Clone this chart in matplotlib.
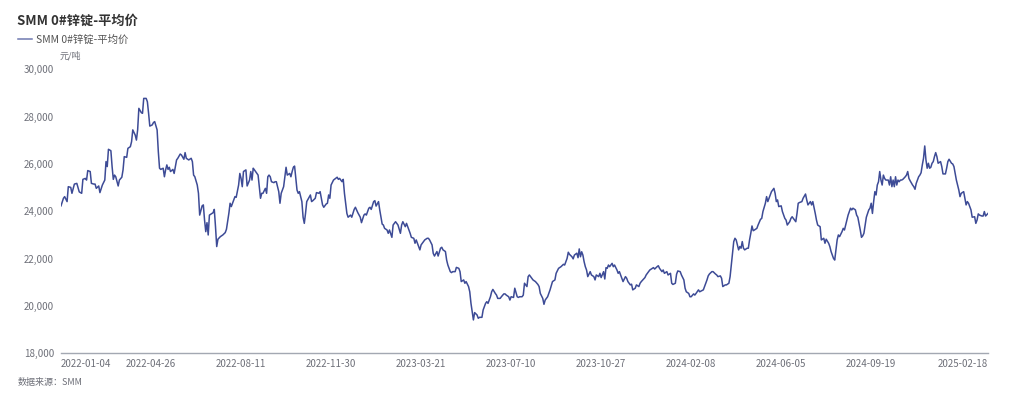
import numpy as np
import matplotlib
matplotlib.use("Agg")
import matplotlib.pyplot as plt
from matplotlib.ticker import FuncFormatter

plt.rcParams["font.family"] = ["Noto Sans CJK SC", "DejaVu Sans"]

# category axis: trading-day index (0 = 2022-01-04, 762 = 2025-02-18)
tick_day = [0, 74, 148, 222, 296, 370, 444, 518, 592, 666, 762]
tick_label = ["2022-01-04", "2022-04-26", "2022-08-11", "2022-11-30", "2023-03-21",
              "2023-07-10", "2023-10-27", "2024-02-08", "2024-06-05", "2024-09-19",
              "2025-02-18"]
y_ticks = [18000, 20000, 22000, 24000, 26000, 28000, 30000]

# 2022
day_2022 = [
    0, 2, 3, 5, 6, 8, 9, 11, 13, 15, 17, 18,
    20, 21, 22, 24, 25, 27, 28, 29, 31, 32, 34, 36,
    37, 38, 39, 41, 42, 43, 44, 45, 47, 48, 50, 51,
    52, 54, 55, 57, 58, 59, 61, 62, 63, 64, 66, 67,
    68, 70, 71, 72, 73, 75, 76, 77, 79, 80, 81, 82,
    84, 85, 86, 87, 88, 89, 90, 92, 93, 95, 96, 98,
    99, 101, 102, 103, 105, 107, 108, 109, 110, 112, 113, 114,
    116, 117, 118, 119, 120, 121, 122, 125, 126, 127, 128, 129,
    131, 133, 135, 136, 138, 139, 140, 142, 143, 144, 146, 147,
    148, 149, 150, 152, 153, 155, 156, 157, 158, 159, 161, 162,
    164, 165, 166, 168, 169, 170, 171, 172, 173, 175, 176, 177,
    179, 180, 181, 183, 185, 186, 188, 189, 190, 191,
    192, 194, 195, 196, 198, 199, 200, 201, 202, 205, 206, 207,
    209, 210, 212, 213, 215, 216, 218, 219, 220, 221, 222, 224,
    227, 228, 229, 231, 232, 233, 235, 236, 238, 239, 241, 242,
]
price_2022 = [
    24230, 24550, 24620, 24410, 25040, 25010, 24760, 25150, 25180, 24820, 24760, 25350,
    25390, 25320, 25720, 25680, 25180, 25150, 25150, 24970, 25070, 24790, 25110, 25320,
    26100, 25890, 26620, 26560, 25890, 25350, 25530, 25460, 25070, 25320, 25440, 25750,
    26310, 26280, 26660, 26730, 26940, 27440, 27220, 27010, 27440, 28350, 28170, 28140,
    28770, 28770, 28630, 28140, 27600, 27650, 27750, 27790, 27440, 26520, 25820, 25770,
    25820, 25460, 25750, 25960, 25770, 25860, 25680, 25770, 25600, 26170, 26240, 26420,
    26380, 26200, 26480, 26240, 26170, 26240, 26100, 25530, 25460, 25110, 24760, 23840,
    24230, 24270, 23630, 23140, 23520, 23000, 23840, 23940, 24080, 23350, 22510, 22820,
    22930, 23000, 23100, 23240, 23920, 24340, 24200, 24480, 24620, 24590, 25110, 25600,
    25390, 25040, 25680, 25750, 25070, 25320, 25680, 25320, 25820, 25750, 25600, 25530,
    24550, 24760, 24760, 24970, 24760, 25460, 25530, 25460, 25250, 25210, 25250, 25250,
    24830, 24340, 24760, 25040, 25860, 25530, 25600, 25460, 25680, 25860,
    25910, 24900, 24760, 24830, 24410, 23750, 23490, 23910, 24410, 24690, 24410, 24450,
    24550, 24790, 24760, 24830, 24270, 24170, 24310, 24340, 24690, 24550, 25110, 25320,
    25440, 25350, 25390, 25250, 25350, 24760, 23910, 23750, 23840, 23750, 24080, 24170,
]

# 2023
day_2023 = [
    244, 246, 247, 249, 250, 251, 253, 254, 255, 257, 258, 259,
    261, 262, 264, 265, 266, 268, 269, 270, 272, 273, 275, 276,
    277, 279, 280, 281, 283, 284, 285, 287, 288, 290, 291, 292,
    294, 295, 296, 298, 299, 301, 302, 303, 305, 306, 307, 309,
    310, 312, 313, 314, 316, 317, 318, 320, 321, 322, 324, 325,
    327, 328, 329, 331, 332, 333, 335, 336, 337, 338, 339, 340,
    342, 343, 344, 346, 347, 349, 350, 351, 353, 354, 355, 357,
    358, 359, 361, 362, 364, 365, 366, 368, 369, 370, 372, 373,
    375, 376, 377, 379, 380,
    381, 383, 384, 385, 387, 388, 390, 392, 393, 394, 396, 397,
    398, 400, 402, 404, 406, 407, 409, 411, 413, 414, 416, 417,
    418, 420, 421, 422, 424, 425, 426, 427, 428, 429, 430, 431,
    432, 433, 435, 436, 438, 439, 440, 442, 443, 444, 446, 447,
    448, 449, 450, 451, 453, 454, 455, 457, 458, 459, 461, 462,
    464, 465, 466, 468, 469, 470, 472, 473, 475, 476, 477, 479,
    480, 481, 483, 484,
]
price_2023 = [
    23940, 23750, 23520, 23840, 23890, 23840, 24130, 24170, 24080, 24410, 24450, 24220,
    24410, 24060, 23460, 23420, 23280, 23210, 23070, 23210, 22900, 23420, 23560, 23490,
    23420, 23070, 23420, 23560, 23350, 23490, 23350, 23070, 22900, 22860, 22650, 22790,
    22510, 22370, 22580, 22720, 22790, 22860, 22860, 22790, 22580, 22220, 22110, 22300,
    22110, 22440, 22480, 22370, 22300, 21940, 21730, 21450, 21410, 21450, 21450, 21630,
    21590, 21450, 21030, 21100, 20960, 21030, 20820, 20600, 20110, 19760, 19410, 19720,
    19620, 19480, 19520, 19520, 19830, 20110, 20180, 20110, 20390, 20600, 20700, 20530,
    20460, 20320, 20320, 20390, 20510, 20510, 20460, 20390, 20250, 20390, 20360, 20750,
    20390, 20360, 20390, 20390, 20460,
    20960, 20820, 21240, 21310, 21170, 21100, 21030, 20910, 20820, 20530, 20320, 20070,
    20250, 20390, 20680, 21030, 21100, 21380, 21590, 21660, 21760, 21730, 22010, 22270,
    22180, 22080, 21990, 22150, 22230, 22040, 22410, 22080, 22290, 22150, 21870, 21660,
    21520, 21240, 21450, 21310, 21240, 21100, 21310, 21240, 21380, 21200, 21450, 21140,
    21620, 21590, 21730, 21660, 21800, 21660, 21730, 21520, 21380, 21450, 21170, 21030,
    21240, 21170, 21030, 20890, 20920, 20680, 20750, 20890, 20820, 20960, 21030, 21140,
    21200, 21310, 21450, 21520,
]

# 2024 - 2025
day_2024 = [
    486, 487, 488, 490, 491, 492, 494, 495,
    496, 498, 499, 501, 502, 503, 505, 506, 507, 509, 510, 512,
    513, 514, 516, 517,
    518, 520, 521, 522, 524, 525, 527, 528, 529, 531, 532, 533,
    535, 536, 538, 539, 540, 542, 543, 544, 546, 547, 549, 550,
    551, 552, 553, 554, 555, 557, 558, 559, 560, 561, 562, 564,
    565, 566, 567, 568, 569, 570, 572, 573, 575, 576, 577, 579,
    580, 581, 583, 584, 586, 587, 588, 589, 590, 592, 593, 595,
    596, 597, 599, 600, 601, 603, 604, 605, 606, 607, 609, 610,
    612, 613, 614, 616, 617, 618, 620, 621, 622, 624, 625, 627,
    628, 629, 631, 632, 633, 635, 636, 637, 638, 639, 640, 642,
    643, 644, 646, 647, 649, 650, 651, 653, 654,
    655, 657, 658, 659, 660, 661, 662, 664, 665, 666, 667, 668,
    669, 670, 671, 672, 673, 674, 675, 676, 677, 678, 680, 681,
    682, 683, 684, 685, 686, 687, 688, 689, 690, 691, 692, 694,
    695, 696, 697, 698, 700, 701, 702, 703, 705, 706, 707, 708,
    709, 710, 711, 712, 713, 714, 715, 716, 717, 718, 719, 720,
    721, 723, 724, 725, 727, 728, 729, 730, 732, 733, 734, 736,
    737, 738, 739, 740, 742, 743, 744, 745, 746, 748, 749, 751,
    752, 753, 754, 755, 757, 758, 759, 760, 762,
]
price_2024 = [
    21590, 21620, 21560, 21660, 21700, 21590, 21450, 21520,
    21380, 21450, 21310, 21380, 20960, 20910, 20960, 21340, 21480, 21450, 21310, 21100,
    20750, 20600, 20530, 20390,
    20390, 20510, 20460, 20530, 20680, 20600, 20650, 20680, 20820, 21100, 21270, 21350,
    21450, 21450, 21350, 21310, 21240, 21270, 21170, 20820, 20890, 20890, 20960, 21240,
    21730, 22230, 22720, 22860, 22790, 22370, 22510, 22440, 22720, 22440, 22370, 22440,
    22440, 22790, 23070, 23380, 23180, 23210, 23280, 23420, 23660, 23700, 23990, 24340,
    24620, 24410, 24690, 24830, 24970, 24760, 24410, 24480, 24200, 24230, 23990, 23700,
    23630, 23420, 23560, 23700, 23770, 23630, 23560, 23910, 24340, 24370, 24410, 24550,
    24730, 24480, 24270, 24410, 24270, 24410, 23910, 23630, 23420, 23350, 22790, 22860,
    22650, 22820, 22650, 22510, 22300, 22010, 21940, 22370, 22790, 23000, 22930, 23140,
    23280, 23210, 23630, 23840, 24130, 24060, 24130, 24060, 23840,
    23750, 23210, 22900, 22960, 23070, 23420, 23750, 24060, 24130, 24340, 23910, 24410,
    24830, 24690, 25110, 25250, 25680, 25320, 25110, 25530, 25390, 25320, 25320, 25110,
    25460, 25040, 25320, 25040, 25460, 25110, 25320, 25250, 25320, 25320, 25350, 25460,
    25530, 25680, 25390, 25290, 25110, 25040, 24930, 25180, 25460, 25530, 25630, 25960,
    26240, 26760, 26170, 25820, 26030, 25820, 25860, 26030, 26100, 26310, 26480, 26310,
    26030, 26100, 25890, 25580, 25580, 25820, 26100, 26200, 26030, 26000, 25890, 25320,
    25110, 24900, 24620, 24760, 24830, 24550, 24270, 24410, 24340, 24060, 23750, 23770,
    23490, 23630, 23890, 23840, 23800, 23800, 23990, 23800, 23910,
]

day = day_2022 + day_2023 + day_2024
price = price_2022 + price_2023 + price_2024
assert len(day) == len(price), (len(day), len(price))

LINE = "#3d4b96"
GREY = "#6e7079"

fig = plt.figure(figsize=(10.24, 3.99), dpi=100)
ax = fig.add_axes([61 / 1024, 1 - 353.3 / 399, 927 / 1024, 284 / 399])
ax.plot(day, price, color=LINE, lw=1.1, label="SMM 0#锌锭-平均价")

ax.set_xlim(0, tick_day[-1])
ax.set_ylim(18000, 30000)
ax.set_yticks(y_ticks)
ax.yaxis.set_major_formatter(FuncFormatter(lambda v, _: f"{int(v):,}"))
ax.set_xticks(tick_day)
ax.set_xticklabels(tick_label)
xl = ax.get_xticklabels()
xl[0].set_ha("left")
xl[-1].set_ha("right")
ax.tick_params(axis="both", length=0, labelsize=7, labelcolor=GREY)
ax.tick_params(axis="y", pad=5)
ax.tick_params(axis="x", pad=4)
for s in ["top", "right", "left"]:
    ax.spines[s].set_visible(False)
ax.spines["bottom"].set_color("#a3a8b2")
ax.spines["bottom"].set_linewidth(1)

fig.text(17 / 1024, 1 - 21 / 399, "SMM 0#锌锭-平均价", fontsize=9.5, fontweight="bold",
         color="#333333", va="center", ha="left")
leg = ax.legend(loc="center left", bbox_to_anchor=(18 / 1024, 1 - 40 / 399),
                bbox_transform=fig.transFigure, frameon=False, fontsize=7.5,
                borderpad=0, borderaxespad=0, handlelength=1.3, handletextpad=0.45,
                labelcolor="#555555")
leg.get_lines()[0].set_color("#6f79b0")
fig.text(70 / 1024, 1 - 56 / 399, "元/吨", fontsize=6.5, color=GREY, ha="center", va="center")
fig.text(18 / 1024, 1 - 382 / 399, "数据来源：SMM", fontsize=6.5, color=GREY,
         ha="left", va="center")

fig.savefig("out.png", dpi=100)
plt.close(fig)
